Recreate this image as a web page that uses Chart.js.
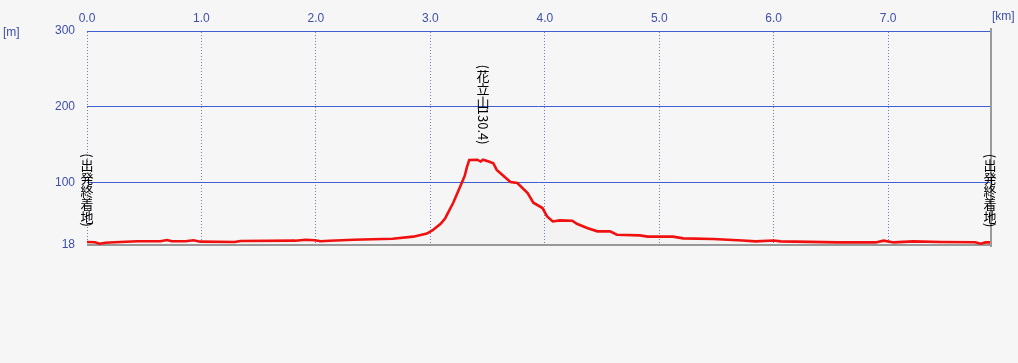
<!DOCTYPE html>
<html>
<head>
<meta charset="utf-8">
<title>標高グラフ</title>
<script src="https://cdn.jsdelivr.net/npm/chart.js@4/dist/chart.umd.min.js"></script>
<style>
  html, body { margin: 0; padding: 0; background: #f6f6f6; }
  #chart { display: block; }
</style>
</head>
<body>
<canvas id="chart" width="1018" height="363"></canvas>
<script>
//-----------------------------------------------------------------------------
// Data
//-----------------------------------------------------------------------------

var distKm = [
  0.00, 0.07, 0.11, 0.16, 0.24, 0.44, 0.64, 0.70, 0.74, 0.86,
  0.93, 0.99, 1.29, 1.34, 1.82, 1.91, 1.99, 2.04, 2.12, 2.33,
  2.67, 2.85, 2.97, 3.02, 3.09, 3.13, 3.20, 3.26, 3.30, 3.32,
  3.34, 3.41, 3.44, 3.46, 3.51, 3.55, 3.58, 3.64, 3.70, 3.76,
  3.85, 3.90, 3.98, 4.02, 4.07, 4.13, 4.24, 4.28, 4.37, 4.46,
  4.57, 4.63, 4.83, 4.90, 5.12, 5.21, 5.47, 5.73, 5.84, 6.00,
  6.06, 6.56, 6.89, 6.96, 7.05, 7.22, 7.46, 7.76, 7.81, 7.85,
  7.89
];

var elevM = [
  22.0, 21.7, 19.7, 21.0, 21.7, 23.0, 23.0, 24.6, 23.0, 23.0,
  24.3, 22.4, 22.0, 23.3, 23.7, 25.0, 24.3, 23.0, 23.7, 25.0,
  26.3, 29.0, 33.0, 37.5, 46.0, 53.3, 73.7, 94.7, 109.0, 121.0,
  130.0, 130.4, 128.0, 130.4, 128.0, 125.7, 117.0, 109.0, 101.0, 99.6,
  86.5, 73.7, 66.7, 55.7, 49.0, 50.4, 50.0, 46.0, 40.4, 36.0,
  36.0, 31.6, 30.7, 29.0, 29.0, 26.7, 26.0, 24.0, 22.8, 24.0,
  22.8, 21.4, 21.4, 23.7, 21.4, 22.8, 22.0, 21.7, 19.7, 21.4,
  21.4
];

var xTicks = [0, 1, 2, 3, 4, 5, 6, 7];
var yTicks = [18, 100, 200, 300];

// place names (written vertically above the profile)
var placeNames = ['(出発終着地)', '(花立山130.4)', '(出発終着地)'];
var placeIndex = [0, 33, 70];

var labelBlue = '#3f4fa8';
var gridBlue = '#3f5fd0';

//-----------------------------------------------------------------------------
// Helpers
//-----------------------------------------------------------------------------

function isCJK(ch) {
  return /[\u3000-\u9fff\uff00-\uffef]/.test(ch);
}

// draws text top-to-bottom, CJK upright and the rest turned 90deg
function drawVertical(ctx, text, cx, bottomY, size) {
  var chars = text.split('');
  var total = 0;
  var adv = chars.map(function(ch) {
    var a = isCJK(ch) ? size : ctx.measureText(ch).width;
    total += a;
    return a;
  });
  var y = bottomY - total;
  chars.forEach(function(ch, i) {
    if (isCJK(ch)) {
      ctx.textAlign = 'center';
      ctx.textBaseline = 'middle';
      ctx.fillText(ch, cx, y + adv[i] / 2 + 1);
    } else {
      ctx.save();
      ctx.translate(cx, y);
      ctx.rotate(Math.PI / 2);
      ctx.textAlign = 'left';
      ctx.textBaseline = 'middle';
      ctx.fillText(ch, 0, 0);
      ctx.restore();
    }
    y += adv[i];
  });
}

var extras = {
  id: 'extras',
  afterDraw: function(chart) {
    var ctx = chart.ctx,
        area = chart.chartArea,
        xs = chart.scales.x,
        ys = chart.scales.y;

    ctx.save();
    // right frame
    ctx.strokeStyle = '#9a9a9a';
    ctx.lineWidth = 2;
    ctx.beginPath();
    ctx.moveTo(area.right + 1, area.top - 3);
    ctx.lineTo(area.right + 1, area.bottom + 2);
    ctx.stroke();

    // unit labels
    ctx.fillStyle = labelBlue;
    ctx.font = '12px "Liberation Sans"';
    ctx.textBaseline = 'middle';
    ctx.textAlign = 'left';
    ctx.fillText('[m]', 3, area.top + 2);
    ctx.fillText('[km]', area.right + 2, 17);

    // place names
    ctx.fillStyle = '#000';
    ctx.font = '13px "Noto Sans CJK JP"';
    placeNames.forEach(function(name, i) {
      var k = placeIndex[i];
      var px = xs.getPixelForValue(distKm[k]);
      var py = ys.getPixelForValue(elevM[k]);
      drawVertical(ctx, name, px, py - 15, 13);
    });
    ctx.restore();
  }
};

//-----------------------------------------------------------------------------
// Chart
//-----------------------------------------------------------------------------

var points = distKm.map(function(d, i) { return { x: d, y: elevM[i] }; });

new Chart(document.getElementById('chart'), {
  type: 'line',
  data: {
    datasets: [{
      data: points,
      borderColor: '#f01010',
      borderWidth: 2.6,
      pointRadius: 0,
      tension: 0,
      fill: 'start',
      backgroundColor: 'rgba(0,0,0,0.012)'
    }]
  },
  options: {
    responsive: false,
    animation: false,
    layout: { padding: { left: 0, top: 0, right: 28, bottom: 118 } },
    plugins: {
      legend: { display: false },
      tooltip: { enabled: false }
    },
    scales: {
      x: {
        type: 'linear',
        position: 'top',
        min: 0,
        max: 7.89,
        afterBuildTicks: function(scale) {
          scale.ticks = xTicks.map(function(v) { return { value: v }; });
        },
        afterFit: function(scale) { scale.height = 31; },
        ticks: {
          color: labelBlue,
          font: { family: 'Liberation Sans', size: 12 },
          padding: 5,
          maxRotation: 0,
          callback: function(v) { return v.toFixed(1); }
        },
        grid: {
          color: '#6d7fc8',
          lineWidth: 1,
          drawTicks: false,
          tickBorderDash: [1, 2]
        },
        border: { display: true, color: gridBlue, width: 1, dash: [1, 2] }
      },
      y: {
        min: 18,
        max: 300,
        afterBuildTicks: function(scale) {
          scale.ticks = yTicks.map(function(v) { return { value: v }; });
        },
        afterFit: function(scale) { scale.width = 87; },
        ticks: {
          color: labelBlue,
          font: { family: 'Liberation Sans', size: 12 },
          padding: 12
        },
        grid: {
          drawTicks: false,
          color: function(c) { return c.tick && c.tick.value === 18 ? '#9a9a9a' : gridBlue; },
          lineWidth: function(c) { return c.tick && c.tick.value === 18 ? 2 : 1; }
        },
        border: { display: false }
      }
    }
  },
  plugins: [extras]
});
</script>
</body>
</html>
